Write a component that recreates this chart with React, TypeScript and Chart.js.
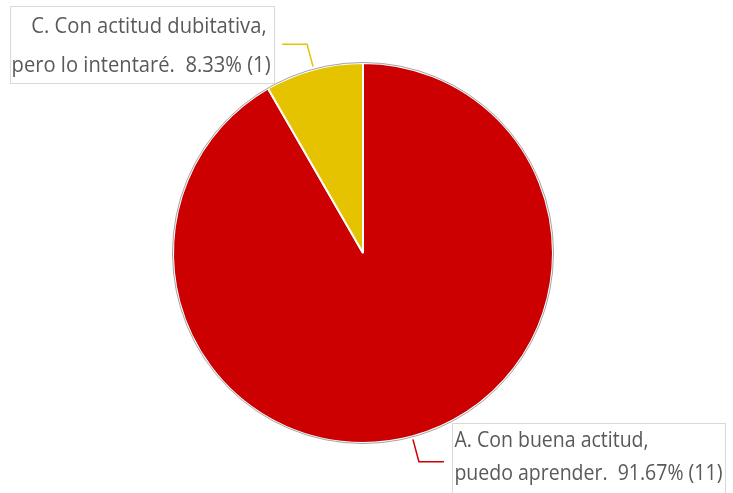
import React, { useEffect, useRef } from "react";
import { Chart, registerables } from "chart.js";

Chart.register(...registerables);

const categories = [
  "A. Con buena actitud, puedo aprender.",
  "C. Con actitud dubitativa, pero lo intentaré.",
];
const counts = [11, 1];
const labelLine1 = ["A. Con buena actitud,", "C. Con actitud dubitativa,"];
const labelLine2 = ["puedo aprender.  91.67% (11)", "pero lo intentaré.  8.33% (1)"];
const colors = ["#CC0000", "#E6C300"];

const FONT_FAMILY = "'Open Sans', 'Noto Sans', sans-serif";

const calloutPlugin = {
  id: "callouts",
  afterDraw(chart: any) {
    const ctx = chart.ctx as CanvasRenderingContext2D;
    const meta = chart.getDatasetMeta(0);
    const cfg = chart.options.plugins.callouts;
    ctx.save();
    // outer gray edge
    const a0 = meta.data[0];
    ctx.beginPath();
    ctx.arc(a0.x, a0.y, a0.outerRadius + 0.5, 0, Math.PI * 2);
    ctx.strokeStyle = "rgba(140,140,140,0.8)";
    ctx.lineWidth = 1;
    ctx.stroke();

    meta.data.forEach((arc: any, i: number) => {
      const mid = (arc.startAngle + arc.endAngle) / 2;
      const r = arc.outerRadius;
      const cx = arc.x, cy = arc.y;
      const c = Math.cos(mid), s = Math.sin(mid);
      const p0x = cx + (r + cfg.startOff) * c, p0y = cy + (r + cfg.startOff) * s;
      const p1x = cx + (r + cfg.radial) * c, p1y = cy + (r + cfg.radial) * s;
      const dir = c >= 0 ? 1 : -1;
      const p2x = p1x + dir * cfg.horiz, p2y = p1y;
      ctx.beginPath();
      ctx.moveTo(p0x, p0y);
      ctx.lineTo(p1x, p1y);
      ctx.lineTo(p2x, p2y);
      ctx.strokeStyle = colors[i];
      ctx.lineWidth = 1.5;
      ctx.stroke();

      ctx.font = `${cfg.fontSize}px ${FONT_FAMILY}`;
      const l1 = labelLine1[i], l2 = labelLine2[i];
      const m2 = ctx.measureText(l2).width;
      const sx = cfg.textW[i] / m2;
      const w1 = ctx.measureText(l1).width * sx;
      const w = Math.max(w1, cfg.textW[i]);
      const bw = w + cfg.padL + cfg.padR;
      const bh = cfg.boxH;
      const bx = dir > 0 ? p2x + cfg.gap : p2x - cfg.gap - bw;
      const by = p2y - bh / 2;
      ctx.fillStyle = "#ffffff";
      ctx.fillRect(bx, by, bw, bh);
      ctx.strokeStyle = "#D9D9D9";
      ctx.lineWidth = 1;
      ctx.strokeRect(Math.round(bx) + 0.5, Math.round(by) + 0.5, Math.round(bw), Math.round(bh));
      ctx.fillStyle = "#595959";
      ctx.textBaseline = "alphabetic";
      ctx.textAlign = "left";
      const b1 = by + cfg.base1[i], b2 = by + cfg.base2[i];
      const drawScaled = (t: string, x: number, y: number) => {
        ctx.save();
        ctx.translate(x, y);
        ctx.scale(sx, 1);
        ctx.fillText(t, 0, 0);
        ctx.restore();
      };
      if (dir > 0) {
        drawScaled(l1, bx + cfg.padL, b1);
        drawScaled(l2, bx + cfg.padL, b2);
      } else {
        drawScaled(l1, bx + bw - cfg.padR - 4 - w1, b1);
        drawScaled(l2, bx + cfg.padL, b2);
      }
    });
    ctx.restore();
  },
};

export default function App() {
  const ref = useRef<HTMLCanvasElement | null>(null);
  useEffect(() => {
    document.body.style.margin = "0";
    const chart = new Chart(ref.current!, {
      type: "pie",
      data: {
        labels: categories,
        datasets: [
          {
            data: counts,
            backgroundColor: colors,
            borderColor: "#ffffff",
            borderWidth: 2,
          },
        ],
      },
      options: {
        responsive: false,
        animation: false,
        layout: { padding: { top: 62, bottom: 49, left: 172, right: 179 } },
        plugins: {
          legend: { display: false },
          tooltip: { enabled: false },
          callouts: {
            startOff: 3,
            radial: 26,
            horiz: 25,
            gap: 8.5,
            padL: 2,
            padR: 3,
            boxH: 77,
            fontSize: 21,
            textW: [268, 259],
            base1: [24, 27],
            base2: [57, 66],
          },
        } as any,
      },
      plugins: [calloutPlugin],
    });
    return () => chart.destroy();
  }, []);
  return (
    <div style={{ position: "fixed", left: 0, top: 0, width: 733, height: 493, background: "#fff" }}>
      <canvas ref={ref} width={733} height={493} style={{ width: 733, height: 493 }} />
    </div>
  );
}
